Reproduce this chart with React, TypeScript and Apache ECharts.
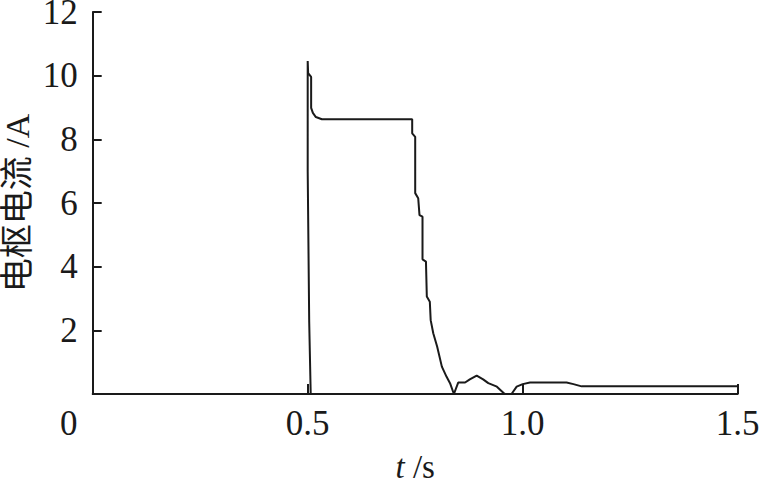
import React, { useEffect, useRef } from "react";
import * as echarts from "echarts";

// time (s) and armature current (A)
const timeS = [
  0, 0.507, 0.5035, 0.5, 0.5, 0.501, 0.508, 0.508, 0.512, 0.519, 0.533,
  0.743, 0.743, 0.75, 0.75, 0.757, 0.76, 0.767, 0.767, 0.775, 0.777, 0.784,
  0.786, 0.792, 0.801, 0.812, 0.823, 0.831, 0.84, 0.85, 0.866, 0.877, 0.893,
  0.908, 0.92, 0.94, 0.955, 0.959, 0.974, 0.986, 1.0, 1.017, 1.102, 1.118,
  1.137, 1.5,
];
const currentA = [
  0, 0, 2.26, 7.0, 10.46, 10.08, 9.96, 8.99, 8.83, 8.7, 8.63,
  8.63, 8.19, 8.08, 6.31, 6.15, 5.62, 5.57, 4.23, 4.16, 3.06, 2.9,
  2.32, 1.91, 1.49, 0.86, 0.54, 0.34, 0, 0.36, 0.36, 0.46, 0.58,
  0.46, 0.34, 0.23, 0.04, 0, 0, 0.23, 0.31, 0.36, 0.36, 0.31,
  0.24, 0.24,
];

const xTicks = [0, 0.5, 1.0, 1.5];
const yTicks = [0, 2, 4, 6, 8, 10, 12];

const xName = "t";
const xUnit = " /s";
const yName = "电枢电流 /A";

const FONT = '"Times New Roman", "Liberation Serif", "Noto Sans CJK SC", serif';
const INK = "#1a1a1a";

export default function App() {
  const ref = useRef<HTMLDivElement>(null);

  useEffect(() => {
    if (!ref.current) return;
    const chart = echarts.init(ref.current, undefined, { renderer: "svg" });
    const data = timeS.map((t, i) => [t, currentA[i]]);
    chart.setOption({
      animation: false,
      backgroundColor: "#ffffff",
      grid: {
        left: 92.7,
        right: 24.3,
        top: 12,
        bottom: 89,
        containLabel: false,
        outerBoundsMode: "none",
      },
      xAxis: {
        type: "value",
        min: xTicks[0],
        max: xTicks[xTicks.length - 1],
        interval: 0.5,
        name: `{i|${xName}}{n|${xUnit}}`,
        nameLocation: "middle",
        nameGap: 56,
        nameMoveOverlap: false,
        nameTextStyle: {
          rich: {
            i: { fontFamily: FONT, fontSize: 33, fontStyle: "italic", color: INK },
            n: { fontFamily: FONT, fontSize: 33, color: INK },
          },
        },
        axisLine: { show: true, lineStyle: { color: INK, width: 2 } },
        axisTick: { show: true, inside: true, length: 10, lineStyle: { color: INK, width: 2 } },
        splitLine: { show: false },
        axisLabel: {
          margin: 12,
          fontFamily: FONT,
          fontSize: 35,
          color: INK,
          formatter: (v: number) => (v === 0 ? "{z|0}" : v.toFixed(1)),
          rich: {
            z: { fontFamily: FONT, fontSize: 35, color: INK, padding: [0, 48, 0, 0] },
          },
        },
      },
      yAxis: {
        type: "value",
        min: yTicks[0],
        max: yTicks[yTicks.length - 1],
        interval: 2,
        name: yName,
        nameLocation: "middle",
        nameGap: 58,
        nameRotate: 90,
        nameMoveOverlap: false,
        nameTextStyle: { fontFamily: FONT, fontSize: 34, color: INK },
        axisLine: { show: true, lineStyle: { color: INK, width: 2 } },
        axisTick: { show: true, inside: true, length: 9, lineStyle: { color: INK, width: 2 } },
        splitLine: { show: false },
        axisLabel: {
          margin: 15,
          fontFamily: FONT,
          fontSize: 35,
          color: INK,
          formatter: (v: number) => (v === 0 ? "" : String(v)),
        },
      },
      series: [
        {
          type: "line",
          data,
          symbol: "none",
          lineStyle: { color: INK, width: 2 },
          z: 1,
        },
      ],
    });
    return () => chart.dispose();
  }, []);

  return <div ref={ref} style={{ width: 762, height: 483, position: "absolute", left: 0, top: 0 }} />;
}
